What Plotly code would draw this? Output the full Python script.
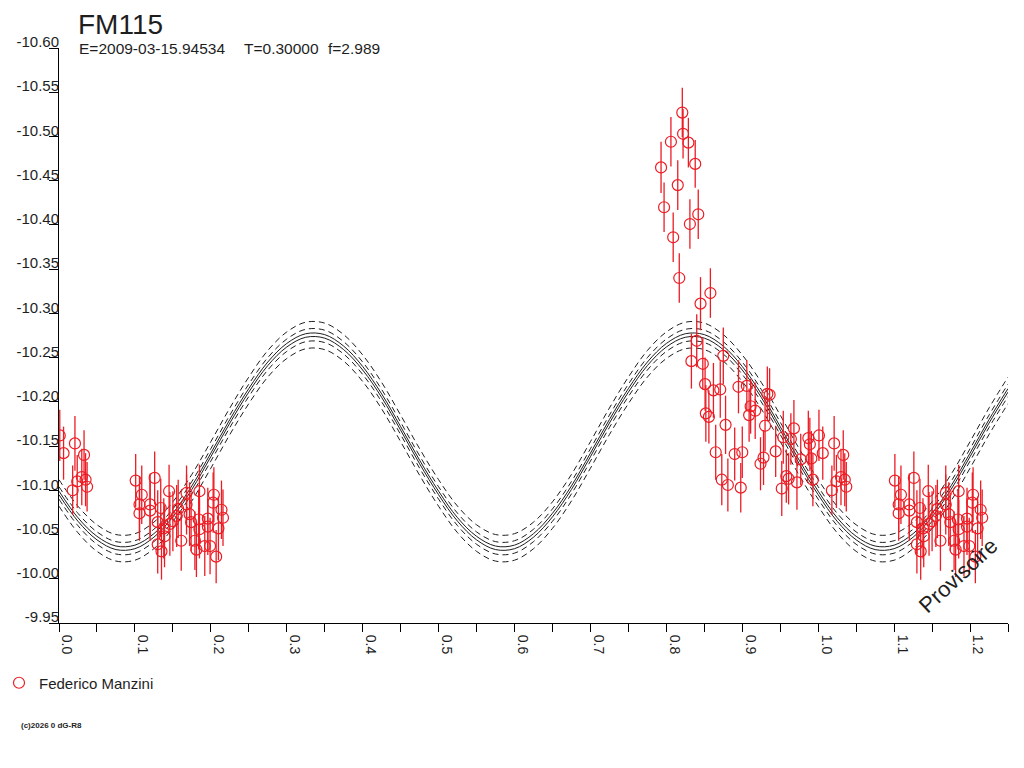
import plotly.graph_objects as go

# ---------------- text ----------------
TITLE = "FM115"
SUBTITLE_PARTS = ["E=2009-03-15.94534", "T=0.30000", "f=2.989"]
OBSERVER = "Federico Manzini"
WATERMARK = "Provisoire"
COPYRIGHT = "(c)2026 0 dG-R8"

# ---------------- axis ticks ----------------
X_TICK_VALUES = [0.0, 0.1, 0.2, 0.3, 0.4, 0.5, 0.6, 0.7, 0.8, 0.9, 1.0, 1.1, 1.2]
X_TICK_LABELS = ["0.0", "0.1", "0.2", "0.3", "0.4", "0.5", "0.6", "0.7", "0.8", "0.9", "1.0", "1.1", "1.2"]
X_MINOR_VALUES = [0.05, 0.15, 0.25, 0.35, 0.45, 0.55, 0.65, 0.75, 0.85, 0.95, 1.05, 1.15, 1.25]
Y_TICK_VALUES = [-10.60, -10.55, -10.50, -10.45, -10.40, -10.35, -10.30, -10.25, -10.20,
                 -10.15, -10.10, -10.05, -10.00, -9.95]
Y_TICK_LABELS = ["-10.60", "-10.55", "-10.50", "-10.45", "-10.40", "-10.35", "-10.30", "-10.25",
                 "-10.20", "-10.15", "-10.10", "-10.05", "-10.00", "-9.95"]

# ---------------- observations (phase, magnitude, error) ----------------
PHASE = [
    # phase 0.00 - 0.04
    0.001, 0.006, 0.021, 0.033, 0.018, 0.024, 0.030, 0.035, 0.037,
    # phase 0.10 - 0.22
    0.101, 0.126, 0.109, 0.106, 0.120, 0.106, 0.120, 0.130, 0.134, 0.145,
    0.138, 0.139, 0.130, 0.135, 0.146, 0.150, 0.157, 0.155, 0.168, 0.168,
    0.172, 0.174, 0.185, 0.184, 0.185, 0.196, 0.196, 0.204, 0.203, 0.214,
    0.216, 0.210, 0.161, 0.179, 0.181, 0.192, 0.199, 0.207,
    # phase 0.79 - 0.86 (bright)
    0.821, 0.822, 0.829, 0.806, 0.793, 0.838, 0.815, 0.797, 0.842, 0.831,
    0.809, 0.817, 0.858, 0.845,
    # phase 0.83 - 1.00
    0.840, 0.833, 0.848, 0.875, 0.851, 0.862, 0.871, 0.895, 0.906, 0.933,
    0.852, 0.856, 0.878, 0.911, 0.909, 0.917, 0.930, 0.865, 0.890, 0.900,
    0.928, 0.924, 0.944, 0.873, 0.881, 0.898, 0.952, 0.954, 0.968, 0.964,
    0.987, 0.989, 0.991, 0.977, 0.958, 0.961, 0.972, 0.993, 0.936,
]
MAG = [
    -10.162, -10.142, -10.153, -10.140, -10.100, -10.110, -10.115, -10.112, -10.104,
    -10.111, -10.114, -10.095, -10.084, -10.084, -10.074, -10.077, -10.064, -10.080, -10.099,
    -10.057, -10.048, -10.039, -10.031, -10.062, -10.065, -10.079, -10.071, -10.097, -10.084,
    -10.073, -10.064, -10.099, -10.067, -10.056, -10.068, -10.059, -10.095, -10.086, -10.078,
    -10.069, -10.057, -10.043, -10.043, -10.033, -10.037, -10.037, -10.025,
    -10.527, -10.503, -10.493, -10.494, -10.465, -10.469, -10.445, -10.420, -10.412, -10.401,
    -10.386, -10.340, -10.323, -10.311,
    -10.269, -10.246, -10.243, -10.252, -10.220, -10.213, -10.214, -10.217, -10.218, -10.209,
    -10.187, -10.183, -10.174, -10.195, -10.185, -10.190, -10.173, -10.143, -10.141, -10.143,
    -10.137, -10.130, -10.144, -10.112, -10.106, -10.103, -10.102, -10.160, -10.170, -10.158,
    -10.159, -10.152, -10.136, -10.135, -10.116, -10.113, -10.109, -10.112, -10.208,
]
ERR = [
    0.029, 0.030, 0.031, 0.028, 0.028, 0.030, 0.032, 0.030, 0.028,
    0.030, 0.030, 0.033, 0.032, 0.035, 0.031, 0.034, 0.036, 0.033, 0.030,
    0.034, 0.035, 0.033, 0.032, 0.036, 0.034, 0.033, 0.035, 0.031, 0.034,
    0.036, 0.033, 0.030, 0.034, 0.033, 0.035, 0.032, 0.031, 0.034, 0.033,
    0.032, 0.036, 0.034, 0.033, 0.031, 0.034, 0.032, 0.030,
    0.028, 0.028, 0.028, 0.028, 0.029, 0.027, 0.028, 0.028, 0.028, 0.028,
    0.028, 0.028, 0.028, 0.030,
    0.030, 0.031, 0.029, 0.032, 0.030, 0.031, 0.032, 0.030, 0.029, 0.031,
    0.032, 0.030, 0.033, 0.031, 0.030, 0.032, 0.029, 0.031, 0.030, 0.029,
    0.031, 0.030, 0.029, 0.029, 0.030, 0.028, 0.031, 0.030, 0.032, 0.029,
    0.031, 0.030, 0.031, 0.029, 0.030, 0.029, 0.031, 0.030, 0.030,
]

# ---------------- fitted light curve ----------------
MODEL_PHASE = [round(0.025 * i, 3) for i in range(51)]
MODEL_MAG = [
    -10.097, -10.067, -10.046, -10.035, -10.036, -10.049, -10.072, -10.103, -10.140, -10.178,
    -10.213, -10.243, -10.264, -10.275, -10.274, -10.261, -10.238, -10.207, -10.170, -10.132,
    -10.097, -10.067, -10.046, -10.035, -10.036, -10.049, -10.072, -10.103, -10.140, -10.178,
    -10.213, -10.243, -10.264, -10.275, -10.274, -10.261, -10.238, -10.207, -10.170, -10.132,
    -10.097, -10.067, -10.046, -10.035, -10.036, -10.049, -10.072, -10.103, -10.140, -10.178,
    -10.213,
]
BAND_OFFSETS = [-0.015, -0.007, -0.002, 0.002, 0.007, 0.015]
BAND_DASHES = ["6px,4px", "6px,4px", "solid", "solid", "6px,4px", "6px,4px"]

# ---------------- styling / geometry ----------------
# the page body adds an 8px margin, so the figure is drawn 8px smaller
PAGE_PAD = 8
W, H = 1024 - PAGE_PAD, 768 - PAGE_PAD
PLOT_LEFT, PLOT_TOP, PLOT_RIGHT, PLOT_BOTTOM = 59, 48, 1008, 623  # on screen
ML, MT = PLOT_LEFT - PAGE_PAD, PLOT_TOP - PAGE_PAD
MR, MB = W - (PLOT_RIGHT - PAGE_PAD), H - (PLOT_BOTTOM - PAGE_PAD)
PW, PH = W - ML - MR, H - MT - MB
RED = "#ec1c24"
INK = "#1e1e1e"
FONT = "Liberation Sans, Arial, sans-serif"


def px_x(px):
    return (px - PLOT_LEFT) / PW


def px_y(py):
    return (PLOT_BOTTOM - py) / PH


# phase diagram: points with phase < 0.25 are repeated one cycle later
plot_phase = list(PHASE) + [p + 1.0 for p in PHASE if p < 0.25]
plot_mag = list(MAG) + [m for p, m in zip(PHASE, MAG) if p < 0.25]
plot_err = list(ERR) + [e for p, e in zip(PHASE, ERR) if p < 0.25]

fig = go.Figure()

for off, dash in zip(BAND_OFFSETS, BAND_DASHES):
    fig.add_trace(go.Scatter(
        x=MODEL_PHASE, y=[m + off for m in MODEL_MAG], mode="lines",
        line=dict(color=INK, width=1, dash=dash, shape="spline"),
        showlegend=False, hoverinfo="skip"))

fig.add_trace(go.Scatter(
    x=plot_phase, y=plot_mag, mode="markers", name=OBSERVER,
    marker=dict(symbol="circle-open", size=11, color=RED, line=dict(width=1.2, color=RED)),
    error_y=dict(type="data", array=plot_err, visible=True, color=RED, thickness=1.3, width=0),
    showlegend=True))

fig.update_layout(
    width=W, height=H,
    margin=dict(l=ML, r=MR, t=MT, b=MB, pad=0, autoexpand=False),
    paper_bgcolor="white", plot_bgcolor="white",
    font=dict(family=FONT, color=INK, size=14),
    showlegend=True,
    legend=dict(x=px_x(-1), y=px_y(683), xanchor="left", yanchor="middle",
                bgcolor="rgba(0,0,0,0)", font=dict(size=15, color=INK),
                itemwidth=30, tracegroupgap=0),
    xaxis=dict(range=[0, 1.25], tickmode="array", tickvals=X_TICK_VALUES, ticktext=X_TICK_LABELS,
               tickangle=90, ticks="outside", ticklen=8, tickcolor="black", tickwidth=1,
               showline=True, linecolor="black", linewidth=1, showgrid=False, zeroline=False,
               automargin=False,
               ticklabelshift=8, tickfont=dict(size=14, color=INK, family=FONT),
               minor=dict(tickmode="array", tickvals=X_MINOR_VALUES, ticks="outside",
                          ticklen=8, tickcolor="black", tickwidth=1, showgrid=False)),
    yaxis=dict(range=[-9.95, -10.60], tickmode="array", tickvals=Y_TICK_VALUES, ticktext=Y_TICK_LABELS,
               ticks="outside", ticklen=9, tickcolor="black", tickwidth=1,
               showline=True, linecolor="black", linewidth=1, showgrid=False, zeroline=False,
               automargin=False,
               ticklabelstandoff=-13, ticklabelshift=6,
               tickfont=dict(size=15, color=INK, family=FONT)),
)

annotations = [
    dict(text=TITLE, x=px_x(77), y=px_y(PAGE_PAD), xanchor="left", yanchor="top",
         borderpad=0, font=dict(size=28, color=INK, family=FONT)),
    dict(text=SUBTITLE_PARTS[0], x=px_x(77), y=px_y(48), xanchor="left", yanchor="middle",
         font=dict(size=15.5, color=INK, family=FONT)),
    dict(text=SUBTITLE_PARTS[1], x=px_x(242), y=px_y(48), xanchor="left", yanchor="middle",
         font=dict(size=15.5, color=INK, family=FONT)),
    dict(text=SUBTITLE_PARTS[2], x=px_x(326), y=px_y(48), xanchor="left", yanchor="middle",
         font=dict(size=15.5, color=INK, family=FONT)),
    dict(text="<b>" + COPYRIGHT + "</b>", x=px_x(19), y=px_y(725), xanchor="left", yanchor="middle",
         font=dict(size=8, color=INK, family=FONT)),
    dict(text=WATERMARK, x=px_x(958), y=px_y(575), xanchor="center", yanchor="middle",
         textangle=-43, font=dict(size=22, color=INK, family=FONT)),
]
for a in annotations:
    a.update(xref="paper", yref="paper", showarrow=False)
fig.update_layout(annotations=annotations)

fig.write_html("out.html")
